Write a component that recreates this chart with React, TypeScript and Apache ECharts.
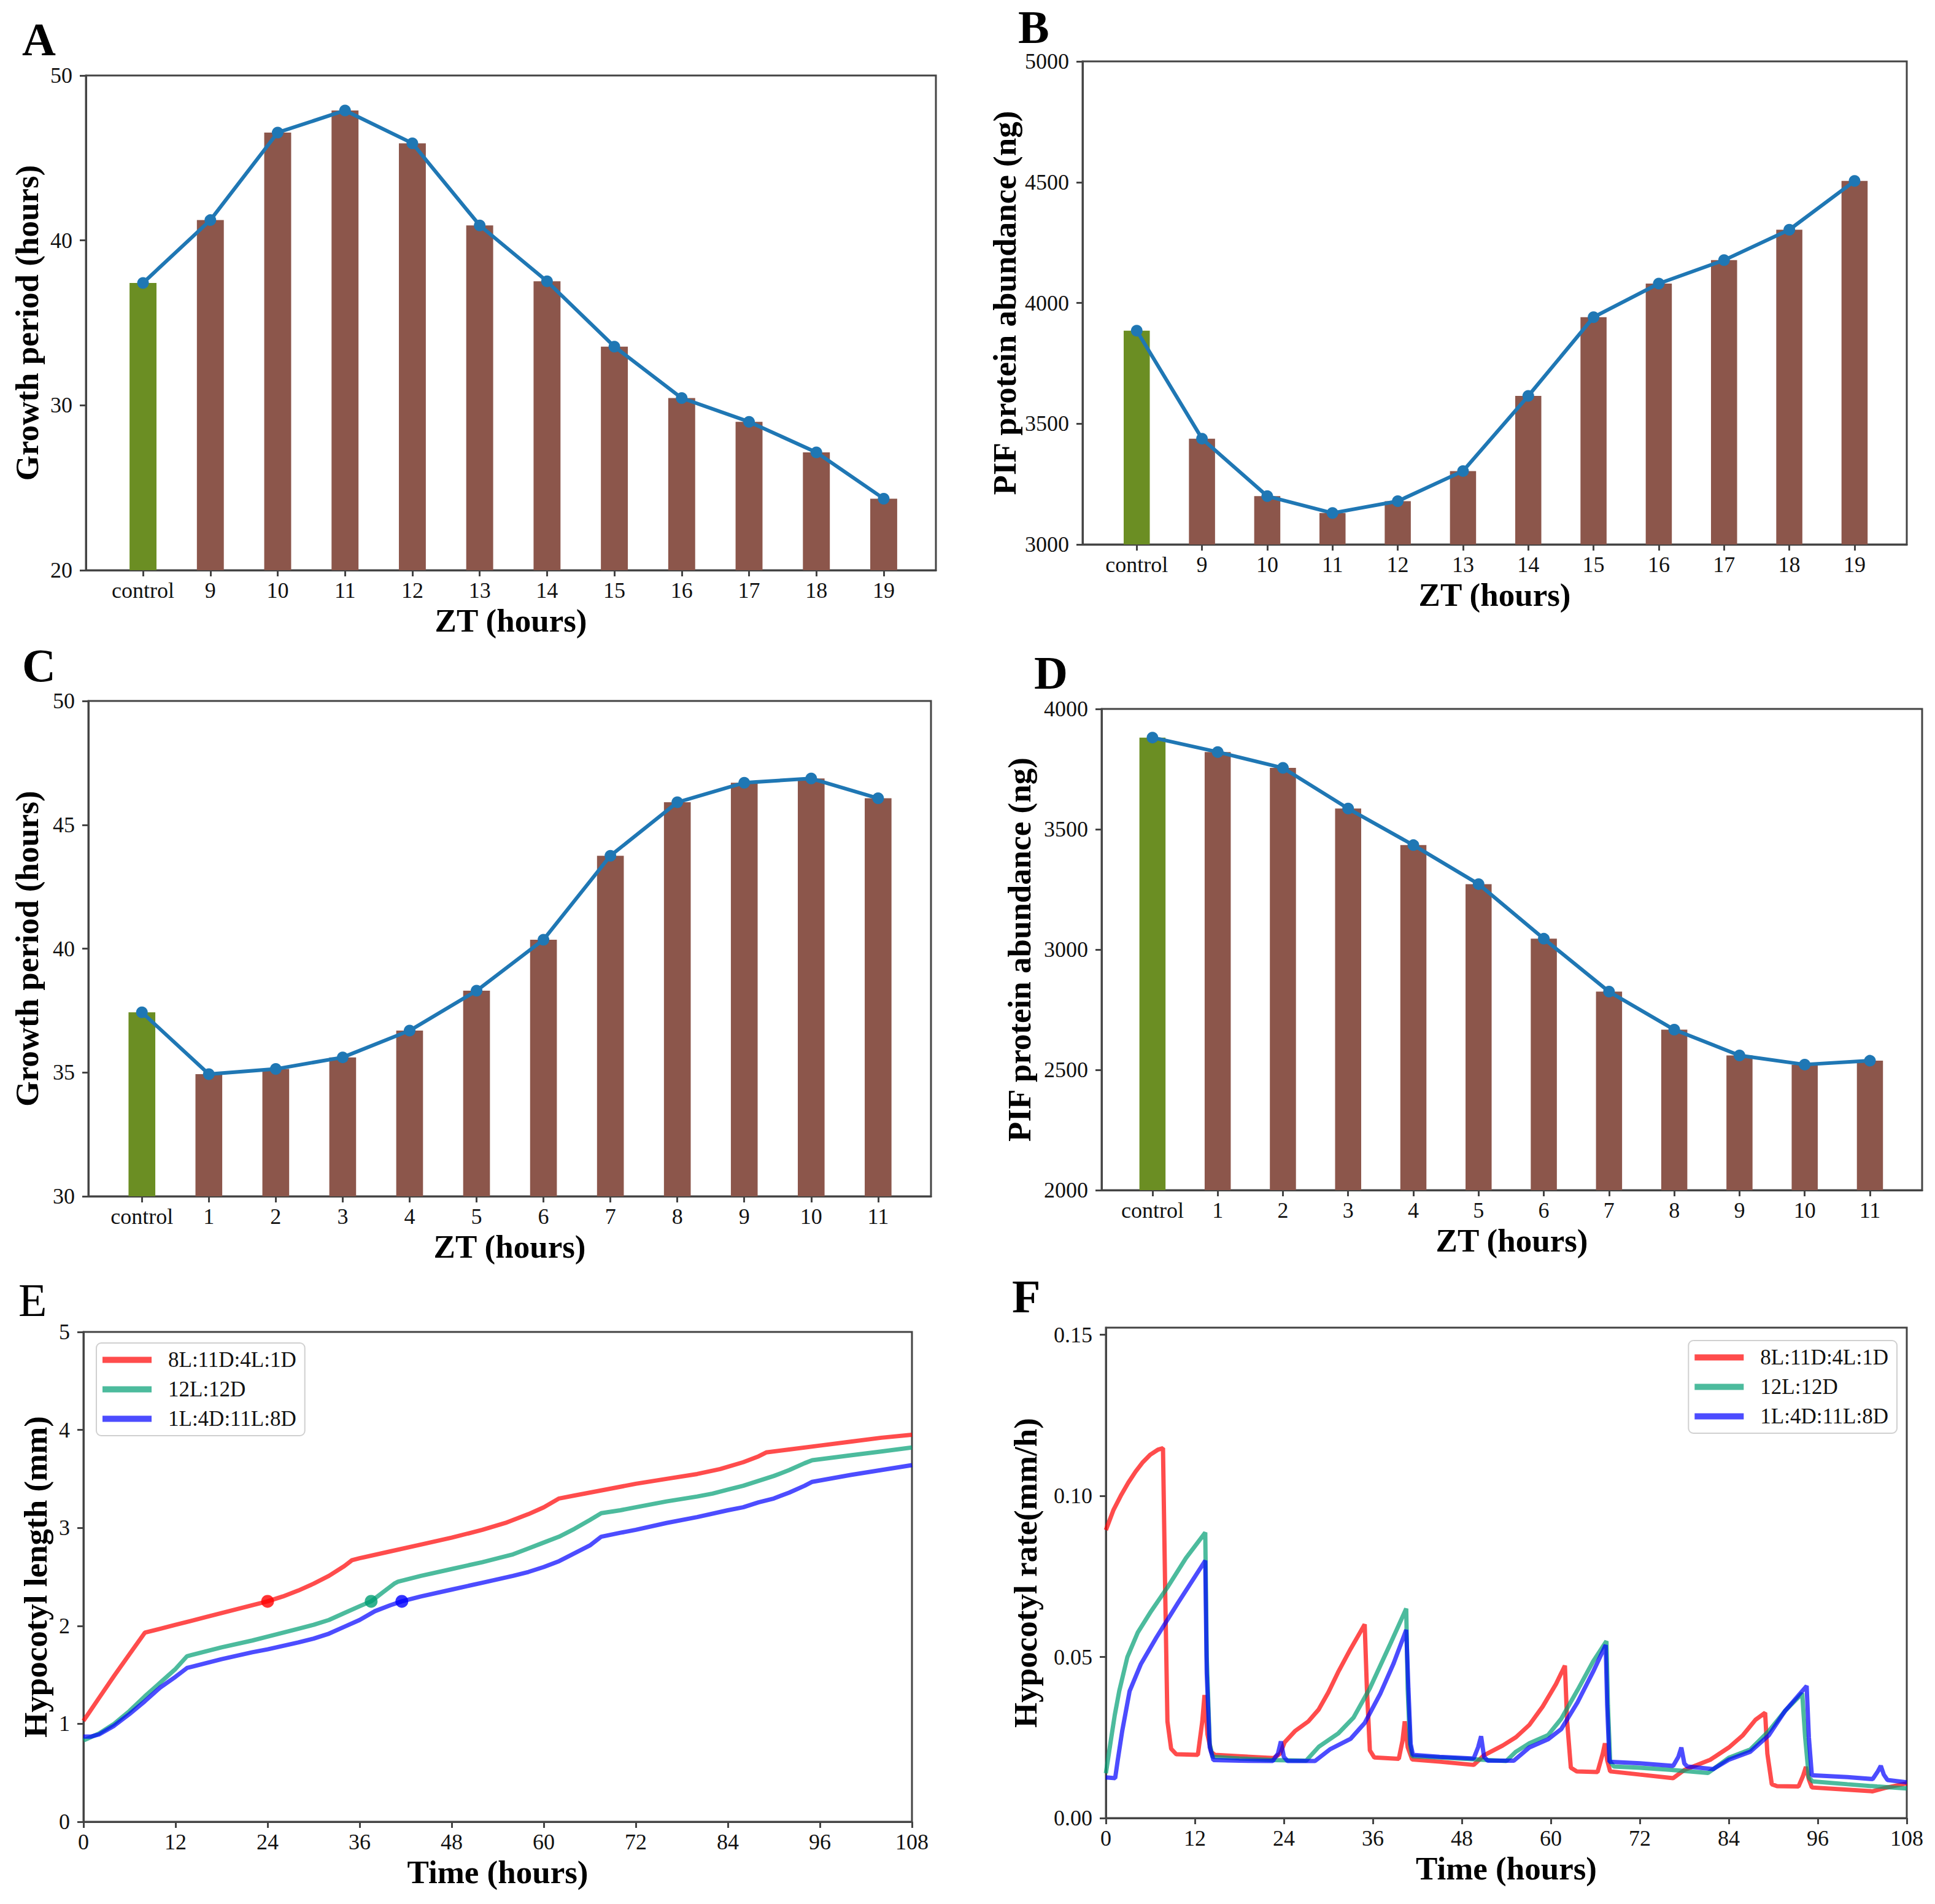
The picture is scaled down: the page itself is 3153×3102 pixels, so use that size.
import React, { useEffect, useRef } from 'react';
import * as echarts from 'echarts';

// ---------- data ----------
const catsAB = ['control', '9', '10', '11', '12', '13', '14', '15', '16', '17', '18', '19'];
const catsCD = ['control', '1', '2', '3', '4', '5', '6', '7', '8', '9', '10', '11'];
const growthA = [37.42, 41.23, 46.54, 47.88, 45.89, 40.91, 37.52, 33.56, 30.44, 29.0, 27.15, 24.34];
const pifB = [3885, 3438, 3200, 3130, 3179, 3304, 3615, 3941, 4080, 4177, 4303, 4505];
const growthC = [37.43, 34.93, 35.14, 35.61, 36.69, 38.3, 40.36, 43.75, 45.91, 46.7, 46.87, 46.07];
const pifD = [3881, 3821, 3755, 3586, 3434, 3272, 3045, 2825, 2667, 2560, 2522, 2538];

const seriesNames = ['8L:11D:4L:1D', '12L:12D', '1L:4D:11L:8D'];

// E: hypocotyl length (mm) vs time (h)
const eRed = [[0, 1.03], [2, 1.26], [4, 1.49], [6, 1.71], [8, 1.93], [10, 1.97], [12, 2.01], [14, 2.05], [16, 2.09], [20, 2.17], [24, 2.25], [26, 2.3], [28, 2.36], [30, 2.43], [32, 2.51], [34, 2.61], [35, 2.67], [36, 2.69], [40, 2.76], [44, 2.83], [48, 2.9], [52, 2.98], [55, 3.05], [58, 3.14], [60, 3.21], [62, 3.3], [64, 3.33], [68, 3.39], [72, 3.45], [76, 3.5], [80, 3.55], [83, 3.6], [86, 3.67], [88, 3.73], [89, 3.77], [92, 3.8], [96, 3.84], [100, 3.88], [104, 3.92], [108, 3.95]];
const eGreen = [[0, 0.83], [2, 0.9], [4, 1.0], [6, 1.13], [8, 1.28], [10, 1.42], [12, 1.56], [13.5, 1.69], [14, 1.7], [18, 1.78], [22, 1.85], [24, 1.89], [28, 1.97], [30, 2.01], [32, 2.06], [34, 2.13], [36, 2.2], [37.5, 2.25], [39, 2.34], [40.5, 2.43], [41, 2.45], [44, 2.51], [48, 2.58], [52, 2.65], [56, 2.73], [58, 2.79], [60, 2.85], [62, 2.91], [64, 2.99], [66, 3.08], [67.5, 3.15], [70, 3.18], [72, 3.21], [76, 3.27], [80, 3.32], [82, 3.35], [84, 3.39], [86, 3.43], [88, 3.48], [90, 3.53], [92, 3.59], [94, 3.66], [95, 3.69], [100, 3.74], [104, 3.78], [108, 3.82]];
const eBlue = [[0, 0.87], [1, 0.87], [2, 0.89], [4, 0.98], [6, 1.1], [8, 1.23], [10, 1.37], [12, 1.48], [13.5, 1.57], [14, 1.58], [18, 1.66], [22, 1.73], [24, 1.76], [28, 1.83], [30, 1.87], [32, 1.92], [34, 1.99], [36, 2.06], [38, 2.15], [40, 2.21], [41.5, 2.25], [44, 2.3], [48, 2.37], [52, 2.44], [56, 2.51], [58, 2.55], [60, 2.6], [62, 2.66], [64, 2.74], [66, 2.82], [67.5, 2.91], [70, 2.95], [72, 2.98], [76, 3.05], [80, 3.11], [84, 3.18], [86, 3.21], [88, 3.26], [90, 3.3], [92, 3.36], [94, 3.43], [95, 3.47], [100, 3.54], [104, 3.59], [108, 3.64]];
const eDots = [[24, 2.25], [37.5, 2.25], [41.5, 2.25]];

// F: hypocotyl rate (mm/h) vs time (h)
const fRed = [[0, 0.0894], [1, 0.0955], [2, 0.1], [3, 0.104], [4, 0.1075], [5, 0.1105], [6, 0.1128], [7, 0.1143], [7.7, 0.1148], [8.0, 0.07], [8.3, 0.03], [8.8, 0.0215], [9.5, 0.0198], [12.4, 0.0196], [13.0, 0.03], [13.3, 0.0382], [13.7, 0.026], [14.2, 0.0205], [14.7, 0.0196], [18, 0.0192], [22.6, 0.0186], [23.5, 0.02], [24.1, 0.0235], [25.5, 0.027], [27.3, 0.03], [28.7, 0.0337], [30, 0.039], [31.3, 0.0452], [33, 0.0525], [34.9, 0.0601], [35.2, 0.04], [35.6, 0.021], [36.2, 0.0188], [39.5, 0.0184], [40.0, 0.024], [40.3, 0.03], [40.7, 0.022], [41.3, 0.0182], [45, 0.0175], [49.6, 0.0165], [51, 0.0195], [53.5, 0.0225], [55.3, 0.0251], [57.1, 0.0289], [58.9, 0.0346], [60.7, 0.0416], [61.9, 0.0473], [62.2, 0.03], [62.7, 0.0156], [63.5, 0.0145], [66.3, 0.0143], [67.0, 0.02], [67.3, 0.0232], [67.6, 0.018], [68, 0.0145], [72, 0.0135], [76.5, 0.0124], [78, 0.0149], [81.5, 0.0181], [84, 0.0219], [85.9, 0.0257], [87.6, 0.0305], [88.9, 0.0327], [89.2, 0.02], [89.8, 0.0105], [90.5, 0.0099], [93.4, 0.0098], [94.0, 0.013], [94.4, 0.0159], [94.8, 0.012], [95.2, 0.0095], [100, 0.0088], [103.4, 0.0083], [105, 0.0093], [108, 0.0108]];
const fGreen = [[0, 0.0139], [0.4, 0.02], [0.7, 0.0246], [1.2, 0.032], [1.8, 0.0394], [2.9, 0.05], [4.3, 0.0576], [6.1, 0.0642], [8.3, 0.0716], [10.8, 0.0807], [13.4, 0.0886], [13.6, 0.05], [14.0, 0.023], [14.4, 0.019], [18, 0.0185], [22.6, 0.018], [27, 0.0178], [28.7, 0.0221], [31.3, 0.0262], [33.4, 0.0312], [35.6, 0.0403], [38.4, 0.0543], [40.5, 0.065], [40.7, 0.04], [41.0, 0.023], [41.3, 0.0192], [45, 0.0188], [50, 0.0182], [54, 0.0177], [55.3, 0.0206], [57.1, 0.0232], [59.6, 0.0257], [61.4, 0.0308], [63.6, 0.0397], [65.7, 0.0486], [67.5, 0.0549], [67.7, 0.035], [68.0, 0.0175], [68.5, 0.016], [72, 0.0156], [76, 0.015], [81.2, 0.014], [84, 0.0187], [86.9, 0.0213], [89.4, 0.027], [91.6, 0.0333], [93.9, 0.0387], [94.3, 0.025], [94.8, 0.0125], [95.3, 0.0114], [100, 0.0105], [104, 0.0098], [108, 0.0092]];
const fBlue = [[0, 0.0126], [1.25, 0.0124], [1.6, 0.018], [2.2, 0.027], [3.2, 0.0394], [4.7, 0.0477], [6.8, 0.056], [9.7, 0.0667], [13.4, 0.0799], [13.6, 0.045], [14.0, 0.022], [14.5, 0.018], [18, 0.0178], [22.5, 0.0177], [23.2, 0.02], [23.6, 0.0238], [24.0, 0.019], [24.5, 0.0177], [28.2, 0.0177], [30.2, 0.0213], [33, 0.0246], [34.9, 0.0295], [37, 0.0386], [38.8, 0.048], [40.5, 0.0584], [40.8, 0.04], [41.1, 0.023], [41.4, 0.0196], [45, 0.019], [49.6, 0.0185], [50.2, 0.022], [50.6, 0.0254], [51.0, 0.019], [51.5, 0.0178], [55, 0.0178], [57.1, 0.0219], [59.6, 0.0244], [61.4, 0.0276], [63.6, 0.0359], [65.7, 0.0454], [67.4, 0.0537], [67.6, 0.035], [67.9, 0.0175], [72, 0.017], [76.5, 0.0162], [77.2, 0.019], [77.6, 0.0219], [78.0, 0.017], [78.4, 0.016], [81.9, 0.0152], [84, 0.0181], [86.9, 0.0206], [89.4, 0.0257], [91.6, 0.0333], [94.5, 0.041], [94.8, 0.025], [95.2, 0.0133], [100, 0.0127], [103.4, 0.0121], [104.1, 0.0145], [104.5, 0.0162], [104.9, 0.0135], [105.4, 0.0118], [108, 0.0111]];

const hourTicks = [0, 12, 24, 36, 48, 60, 72, 84, 96, 108];
const rateTicks = [0, 0.05, 0.1, 0.15];

// ---------- styling ----------
const FONT = '"Liberation Serif", "Times New Roman", serif';
const AXIS_COLOR = '#444';
const TICK_FS = 36;
const TITLE_FS = 53;
const BROWN = '#8c564b';
const OLIVE = '#6b8e23';
const LINE_BLUE = '#1f77b4';
const SER_COLORS = ['rgba(255,0,0,0.7)', 'rgba(0,158,115,0.7)', 'rgba(0,0,255,0.7)'];
const DOT_COLORS = ['#ff0000', '#009e73', '#0000ff'];

const geom = {
  A: { left: 140, top: 123, width: 1385, height: 806, xMin: -0.848, xMax: 11.775 },
  B: { left: 1764, top: 100, width: 1343, height: 787, xMin: -0.83, xMax: 11.8 },
  C: { left: 144, top: 1142, width: 1373, height: 807, xMin: -0.8, xMax: 11.79 },
  D: { left: 1795, top: 1155, width: 1337, height: 784, xMin: -0.78, xMax: 11.8 },
  E: { left: 136, top: 2170, width: 1350, height: 798 },
  F: { left: 1802, top: 2163, width: 1305, height: 799 },
};

const axisLineStyle = { show: true, onZero: false, lineStyle: { color: AXIS_COLOR, width: 3 } };
const axisTickStyle = { show: true, inside: false, length: 10, lineStyle: { color: AXIS_COLOR, width: 3 } };
const tickLabel = { color: '#111', fontFamily: FONT, fontSize: TICK_FS };
const titleStyle = { color: '#000', fontFamily: FONT, fontSize: TITLE_FS, fontWeight: 'bold' };

function gridOf(g) {
  return { left: g.left, top: g.top, width: g.width, height: g.height, show: true, borderColor: AXIS_COLOR, borderWidth: 3, backgroundColor: 'transparent', containLabel: false };
}

function buildOption() {
  const grids = [];
  const xAxes = [];
  const yAxes = [];
  const series = [];

  const barPanel = (key, cats, vals, yMin, yMax, yInt, yName, yGap) => {
    const g = geom[key];
    const idx = grids.length;
    grids.push(gridOf(g));
    const idxVals = cats.map((_, i) => i);
    xAxes.push({
      gridIndex: idx, type: 'value', min: g.xMin, max: g.xMax,
      axisLine: axisLineStyle, axisTick: { ...axisTickStyle, customValues: idxVals },
      axisLabel: { ...tickLabel, margin: 15, customValues: idxVals, formatter: (v) => cats[Math.round(v)] },
      splitLine: { show: false },
      name: 'ZT (hours)', nameLocation: 'middle', nameGap: 55, nameTextStyle: titleStyle,
    });
    yAxes.push({
      gridIndex: idx, type: 'value', min: yMin, max: yMax, interval: yInt,
      axisLine: axisLineStyle, axisTick: axisTickStyle,
      axisLabel: { ...tickLabel, margin: 22, formatter: (v) => String(v) },
      splitLine: { show: false },
      name: yName, nameLocation: 'middle', nameRotate: 90, nameGap: yGap, nameTextStyle: titleStyle,
    });
    const unit = g.width / (g.xMax - g.xMin);
    series.push({
      type: 'bar', xAxisIndex: idx, yAxisIndex: idx, barWidth: unit * 0.4, clip: true,
      data: vals.map((v, i) => ({ value: [i, v], itemStyle: { color: i === 0 ? OLIVE : BROWN } })),
      z: 2,
    });
    series.push({
      type: 'line', xAxisIndex: idx, yAxisIndex: idx,
      data: vals.map((v, i) => [i, v]),
      symbol: 'circle', symbolSize: 19, showSymbol: true,
      lineStyle: { color: LINE_BLUE, width: 6 }, itemStyle: { color: LINE_BLUE },
      z: 3,
    });
  };

  barPanel('A', catsAB, growthA, 20, 50, 10, 'Growth period (hours)', 70);
  barPanel('B', catsAB, pifB, 3000, 5000, 500, 'PIF protein abundance (ng)', 101);
  barPanel('C', catsCD, growthC, 30, 50, 5, 'Growth period (hours)', 74);
  barPanel('D', catsCD, pifD, 2000, 4000, 500, 'PIF protein abundance (ng)', 108);

  const timePanel = (key, lines, yMin, yMax, yInt, yCustom, yFmt, yName, yGap) => {
    const g = geom[key];
    const idx = grids.length;
    grids.push(gridOf(g));
    xAxes.push({
      gridIndex: idx, type: 'value', min: 0, max: 108, interval: 12,
      axisLine: axisLineStyle, axisTick: { ...axisTickStyle, customValues: hourTicks },
      axisLabel: { ...tickLabel, margin: 15, customValues: hourTicks },
      splitLine: { show: false },
      name: 'Time (hours)', nameLocation: 'middle', nameGap: 55, nameTextStyle: titleStyle,
    });
    const yAxis = {
      gridIndex: idx, type: 'value', min: yMin, max: yMax,
      axisLine: axisLineStyle, axisTick: { ...axisTickStyle },
      axisLabel: { ...tickLabel, margin: 22, formatter: yFmt },
      splitLine: { show: false },
      name: yName, nameLocation: 'middle', nameRotate: 90, nameGap: yGap, nameTextStyle: titleStyle,
    };
    if (yCustom) {
      yAxis.axisTick.customValues = yCustom;
      yAxis.axisLabel.customValues = yCustom;
    } else {
      yAxis.interval = yInt;
    }
    yAxes.push(yAxis);
    lines.forEach((d, k) => {
      series.push({
        type: 'line', name: seriesNames[k], xAxisIndex: idx, yAxisIndex: idx,
        data: d, symbol: 'none', showSymbol: false, color: SER_COLORS[k],
        lineStyle: { color: SER_COLORS[k], width: 7 }, z: 3 + k,
      });
    });
    return idx;
  };

  const eIdx = timePanel('E', [eRed, eGreen, eBlue], 0, 5, 1, null, (v) => String(v), 'Hypocotyl length (mm)', 52);
  series.push({
    type: 'scatter', xAxisIndex: eIdx, yAxisIndex: eIdx, symbolSize: 21, z: 10,
    data: eDots.map((p, k) => ({ value: p, itemStyle: { color: DOT_COLORS[k] } })),
  });
  timePanel('F', [fRed, fGreen, fBlue], 0, 0.1522, 0.05, rateTicks, (v) => v.toFixed(2), 'Hypocotyl rate(mm/h)', 105);

  const legendBase = {
    orient: 'vertical', data: seriesNames, icon: 'rect', itemWidth: 80, itemHeight: 10, itemGap: 13,
    textStyle: { fontFamily: FONT, fontSize: 35, color: '#111', padding: [0, 0, 0, 22] },
    backgroundColor: 'rgba(255,255,255,0.8)', borderColor: '#d0d0d0', borderWidth: 2, borderRadius: 8,
    padding: [10, 14, 10, 10], selectedMode: false,
  };

  const letter = (t, x, y, bold) => ({
    type: 'text', left: x, top: y,
    style: { text: t, fill: '#000', font: `${bold ? 'bold ' : ''}76px ${FONT}` },
  });

  return {
    animation: false,
    backgroundColor: '#fff',
    grid: grids,
    xAxis: xAxes,
    yAxis: yAxes,
    series,
    legend: [
      { ...legendBase, left: 157, top: 2188 },
      { ...legendBase, right: 62, top: 2184 },
    ],
    graphic: [
      letter('A', 36, 26, true),
      letter('B', 1659, 6, true),
      letter('C', 36, 1046, true),
      letter('D', 1685, 1058, true),
      letter('E', 30, 2080, false),
      letter('F', 1649, 2074, true),
    ],
  };
}

export default function App() {
  const ref = useRef(null);
  useEffect(() => {
    const chart = echarts.init(ref.current, null, { renderer: 'svg' });
    chart.setOption(buildOption());
    return () => chart.dispose();
  }, []);
  return <div ref={ref} style={{ position: 'absolute', left: 0, top: 0, width: 3153, height: 3102, background: '#fff' }} />;
}
